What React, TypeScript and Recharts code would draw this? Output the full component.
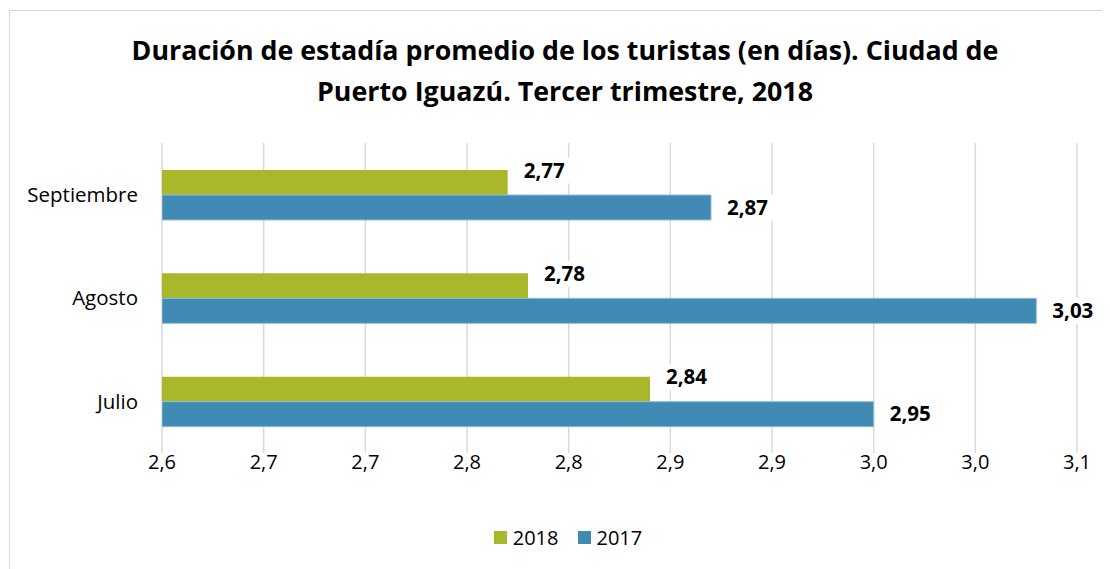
import React from "react";
import { BarChart, Bar, XAxis, YAxis, CartesianGrid, LabelList } from "recharts";

const months = ["Julio", "Agosto", "Septiembre"];
const values2018 = [2.84, 2.78, 2.77];
const values2017 = [2.95, 3.03, 2.87];
const xTicks = [2.6, 2.65, 2.7, 2.75, 2.8, 2.85, 2.9, 2.95, 3.0, 3.05];

const GREEN = "#a8b82a";
const BLUE = "#418ab4";
const FONT = "'Open Sans', sans-serif";

const data = months.map((m, i) => ({ month: m, y2018: values2018[i], y2017: values2017[i] }));

const fmtTick = (v: number) => (Math.round(v * 10 + 1e-6) / 10).toFixed(1).replace(".", ",");
const fmtVal = (v: number) => v.toFixed(2).replace(".", ",");

function makeLabel(shiftY: number) {
  return (props: any) => {
    const { x, y, width, height, value } = props;
    const text = fmtVal(value);
    const tx = x + width + 16;
    const ty = y + height / 2 + shiftY;
    const w = text.length * 11;
    return (
      <g>
        <rect x={tx - 4} y={ty - 13} width={w + 8} height={26} fill="#fff" />
        <text x={tx} y={ty} dy="0.35em" fontFamily={FONT} fontWeight={700} fontSize={20.5} fill="#000">
          {text}
        </text>
      </g>
    );
  };
}

export default function App() {
  return (
    <div
      style={{
        position: "relative",
        width: 1100,
        height: 558,
        marginTop: 2,
        marginLeft: 1,
        border: "1px solid #d9d9d9",
        background: "#fff",
        fontFamily: FONT,
      }}
    >
      <div
        style={{
          position: "absolute",
          top: 18,
          left: 5,
          width: 1100,
          textAlign: "center",
          fontWeight: 700,
          fontSize: 26.8,
          lineHeight: "41px",
          color: "#000",
        }}
      >
        Duración de estadía promedio de los turistas (en días). Ciudad de
        <br />
        Puerto Iguazú. Tercer trimestre, 2018
      </div>
      <BarChart
        width={1100}
        height={558}
        data={data}
        layout="vertical"
        margin={{ top: 132, right: 33, bottom: 86, left: 12 }}
        barGap={0}
        barSize={25}
      >
        <CartesianGrid horizontal={false} stroke="#d9d9d9" strokeWidth={1.5} />
        <XAxis
          type="number"
          domain={[2.6, 3.05]}
          ticks={xTicks}
          tickFormatter={fmtTick}
          axisLine={false}
          tickLine={false}
          tickSize={0}
          tick={{ fill: "#000", fontSize: 20, fontFamily: FONT }}
          allowDataOverflow
        />
        <YAxis
          type="category"
          dataKey="month"
          reversed
          width={140}
          axisLine={false}
          tickLine={false}
          tickSize={0}
          tickMargin={24}
          tick={{ fill: "#000", fontSize: 20.5, fontFamily: FONT }}
        />
        <Bar dataKey="y2018" fill={GREEN} isAnimationActive={false}>
          <LabelList dataKey="y2018" content={makeLabel(-12)} />
        </Bar>
        <Bar dataKey="y2017" fill={BLUE} stroke="#8fbcd8" strokeWidth={1} isAnimationActive={false}>
          <LabelList dataKey="y2017" content={makeLabel(0)} />
        </Bar>
      </BarChart>
      <div
        style={{
          position: "absolute",
          top: 513,
          left: 8,
          width: 1100,
          display: "flex",
          justifyContent: "center",
          alignItems: "center",
          fontSize: 20,
          color: "#000",
        }}
      >
        <span style={{ display: "inline-block", width: 13, height: 13, background: GREEN, marginRight: 6 }} />
        <span style={{ marginRight: 19 }}>2018</span>
        <span style={{ display: "inline-block", width: 13, height: 13, background: BLUE, marginRight: 6 }} />
        <span>2017</span>
      </div>
    </div>
  );
}
